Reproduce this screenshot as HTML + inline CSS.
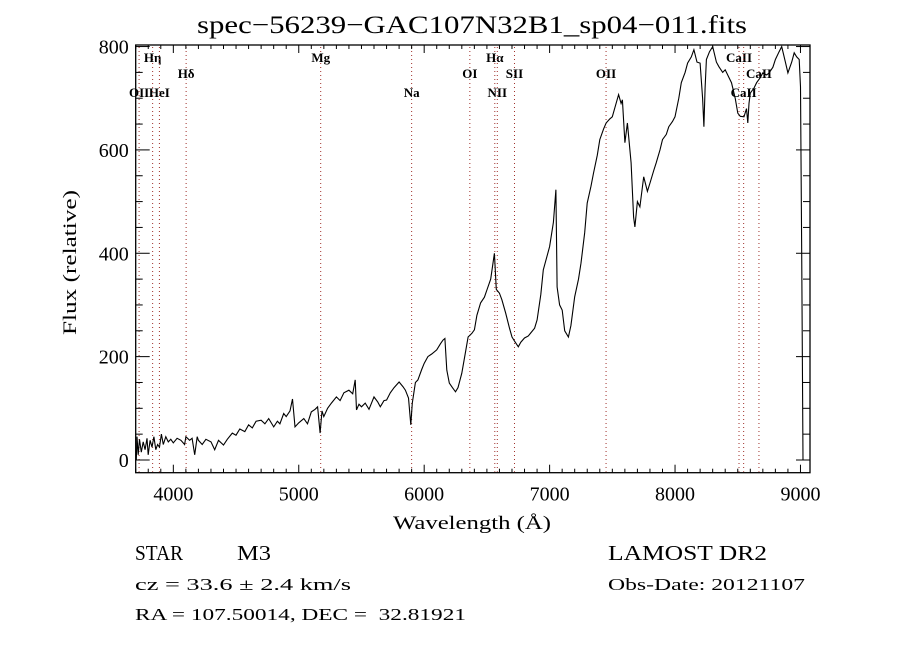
<!DOCTYPE html>
<html><head><meta charset="utf-8"><style>
html,body{margin:0;padding:0;background:#fff;}
svg{display:block;font-family:"Liberation Serif",serif;}
</style></head><body>
<svg id="chart" width="900" height="650" viewBox="0 0 900 650" xmlns="http://www.w3.org/2000/svg">
<rect x="0" y="0" width="900" height="650" fill="#fff"/>
<text x="197" y="33" font-size="25" textLength="550" lengthAdjust="spacingAndGlyphs">spec−56239−GAC107N32B1_sp04−011.fits</text>
<g id="lines"></g>
<g id="ticks"></g>
<path id="spec" fill="none" stroke="#000" stroke-width="1.1"/>
<rect x="135.7" y="45" width="674.3" height="427.7" fill="none" stroke="#000" stroke-width="1.3"/>
<text x="393" y="529" font-size="19" textLength="158" lengthAdjust="spacingAndGlyphs">Wavelength (Å)</text>
<text x="76" y="335" font-size="19" textLength="145" lengthAdjust="spacingAndGlyphs" transform="rotate(-90 76 335)">Flux (relative)</text>
<text x="135" y="560" font-size="21" textLength="48" lengthAdjust="spacingAndGlyphs">STAR</text>
<text x="237" y="560" font-size="21" textLength="34" lengthAdjust="spacingAndGlyphs">M3</text>
<text x="135" y="590" font-size="17" textLength="216" lengthAdjust="spacingAndGlyphs">cz = 33.6 ± 2.4 km/s</text>
<text x="135" y="620" font-size="17" textLength="331" lengthAdjust="spacingAndGlyphs" xml:space="preserve">RA = 107.50014, DEC =  32.81921</text>
<text x="608" y="560" font-size="21" textLength="159" lengthAdjust="spacingAndGlyphs">LAMOST DR2</text>
<text x="608" y="590" font-size="17" textLength="197" lengthAdjust="spacingAndGlyphs">Obs-Date: 20121107</text>
</svg>
<script>
const wavelengths=[3705,3710,3720,3730,3745,3760,3775,3790,3800,3815,3830,3845,3860,3875,3890,3905,3920,3940,3960,3980,4000,4030,4060,4090,4100,4130,4150,4170,4190,4200,4230,4260,4300,4330,4360,4400,4430,4470,4500,4530,4570,4600,4630,4660,4700,4730,4760,4800,4830,4850,4880,4900,4930,4950,4970,5000,5040,5070,5100,5130,5150,5170,5185,5200,5230,5260,5300,5330,5360,5400,5430,5450,5460,5480,5500,5530,5560,5600,5630,5650,5680,5700,5730,5760,5800,5830,5850,5875,5893,5905,5930,5950,5980,6000,6030,6060,6100,6130,6150,6165,6180,6200,6225,6250,6270,6300,6330,6350,6380,6400,6420,6450,6480,6500,6530,6560,6575,6600,6620,6650,6680,6700,6720,6750,6770,6800,6830,6850,6880,6900,6930,6950,6980,7000,7030,7050,7060,7080,7100,7120,7150,7170,7200,7230,7250,7280,7300,7330,7350,7380,7400,7430,7450,7480,7500,7530,7550,7570,7580,7600,7620,7650,7670,7680,7700,7720,7750,7780,7800,7830,7850,7880,7900,7930,7950,7980,8000,8030,8050,8080,8100,8130,8150,8175,8200,8220,8230,8240,8250,8275,8300,8330,8350,8380,8400,8430,8450,8480,8500,8520,8550,8570,8580,8590,8600,8630,8650,8680,8700,8730,8750,8780,8800,8830,8850,8880,8900,8930,8950,8970,8990,9000,9010,9020];
const flux=[0,45,10,40,15,35,20,42,10,38,25,45,20,30,25,50,30,45,35,40,33,42,38,30,45,38,42,10,45,38,30,40,35,20,38,29,40,52,48,60,55,68,62,75,77,70,80,64,75,70,90,84,95,118,64,72,80,70,93,98,103,52,95,84,100,110,122,115,130,135,128,155,97,108,103,110,98,122,112,103,115,116,130,140,151,142,135,120,68,110,150,155,175,187,200,205,213,225,232,235,174,149,140,132,140,168,210,238,245,252,280,304,315,329,350,400,330,323,310,284,255,238,230,219,228,236,240,246,255,271,320,368,395,413,460,523,335,300,290,250,238,260,316,350,381,440,497,530,555,590,620,640,652,660,664,690,707,690,697,614,652,575,470,451,500,490,548,520,536,560,575,600,620,630,645,655,664,700,730,750,768,780,794,770,768,700,645,720,775,790,800,770,761,750,755,740,730,700,671,665,664,680,652,690,710,720,730,740,749,745,749,760,775,790,800,770,749,770,788,780,775,722,400,0];
const markerWaves=[3727,3835,3889,4102,5175,5900,6364,6563,6583,6720,7450,8510,8547,8669];
const markerLabels=["OII","Hη","HeI","Hδ","Mg","Na","OI","Hα","NII","SII","OII","CaII","CaII","CaII"];
const markerRows=[3,1,3,2,1,3,2,1,3,2,2,1,3,2];
const xTickValues=[4000,5000,6000,7000,8000,9000];
const yTickValues=[0,200,400,600,800];

const X0=135.7,X1=810,Y0=472.7,Y1=45;
const XMIN=3700,XMAX=9076,YMIN=-24.6,YMAX=803;
const sx=w=>X0+(w-XMIN)/(XMAX-XMIN)*(X1-X0);
const sy=v=>Y0-(v-YMIN)/(YMAX-YMIN)*(Y0-Y1);
const NS="http://www.w3.org/2000/svg";
function mk(tag,attrs,parent){const e=document.createElementNS(NS,tag);for(const k in attrs)e.setAttribute(k,attrs[k]);parent.appendChild(e);return e;}

let d="";
for(let i=0;i<wavelengths.length;i++){d+=(i?"L":"M")+sx(wavelengths[i]).toFixed(1)+","+sy(Math.max(YMIN,flux[i])).toFixed(1);}
document.getElementById("spec").setAttribute("d",d);

const lg=document.getElementById("lines");
const rowY={1:62,2:78,3:97};
for(let i=0;i<markerWaves.length;i++){
  const x=sx(markerWaves[i]);
  const l=mk("line",{x1:x,x2:x,y1:Y1+2,y2:Y0-1,stroke:"#a0302a","stroke-width":1,"stroke-dasharray":"1,3"},lg);
  
  
  const t=mk("text",{x:x,y:rowY[markerRows[i]],"font-size":13,"font-weight":"bold","text-anchor":"middle"},lg);
  t.textContent=markerLabels[i];
  
  
}

const tg=document.getElementById("ticks");
for(let w=3700;w<=9076;w+=100){
  const x=sx(w);const major=w%1000===0;const len=major?8:4;
  mk("line",{x1:x,x2:x,y1:Y0,y2:Y0-len,stroke:"#000"},tg);
  mk("line",{x1:x,x2:x,y1:Y1,y2:Y1+len,stroke:"#000"},tg);
}
for(const v of xTickValues){
  const t=mk("text",{x:sx(v),y:Y0+28,"font-size":20,"text-anchor":"middle"},tg);
  t.textContent=v;
  
  
}
for(let v=0;v<=800;v+=50){
  const y=sy(v);const major=v%200===0;const len=major?14:7;
  mk("line",{x1:X0,x2:X0+len,y1:y,y2:y,stroke:"#000"},tg);
  mk("line",{x1:X1,x2:X1-len,y1:y,y2:y,stroke:"#000"},tg);
}
for(const v of yTickValues){
  const t=mk("text",{x:X0-7,y:sy(v)+7,"font-size":20,"text-anchor":"end"},tg);
  t.textContent=v;
  
  
}
</script>
</body></html>
